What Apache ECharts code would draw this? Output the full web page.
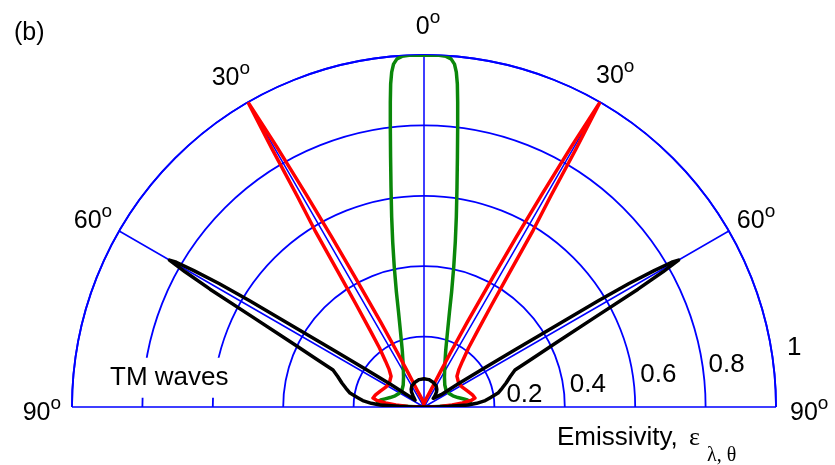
<!DOCTYPE html>
<html>
<head>
<meta charset="utf-8">
<title>Emissivity, TM waves</title>
<script src="https://cdn.jsdelivr.net/npm/echarts@6/dist/echarts.min.js"></script>
<style>
  html, body { margin: 0; padding: 0; background: #ffffff; }
  #chart { width: 835px; height: 465px; }
</style>
</head>
<body>
<div id="chart"></div>
<script>
// Polar angle ticks (degrees from the surface normal) and their labels
const angleTicks = [-90, -60, -30, 0, 30, 60, 90];
const angleTickLabels = ['90', '60', '30', '0', '30', '60', '90'];

// Emissivity rings and their labels
const ringTicks = [0.2, 0.4, 0.6, 0.8, 1];
const ringTickLabels = ['0.2', '0.4', '0.6', '0.8', '1'];

// Directional emissivity, one half of each symmetric pattern (theta >= 0)
const greenTheta = [0, 2.44, 3.59, 4.44, 5.08, 5.51, 5.89, 6.30, 6.86, 7.61, 8.53, 9.65, 10.74, 11.98, 13.5, 15.03, 17.4, 20.93, 26.35, 34.35, 43.39, 52.3, 61.6, 68.9, 74.4, 78.13, 80.86, 82.89, 84.59, 86.02, 86.93, 87.71, 88.09, 90];
const greenEps   = [1.0, 1.0, 0.998, 0.992, 0.978, 0.956, 0.923, 0.872, 0.801, 0.717, 0.632, 0.548, 0.477, 0.407, 0.336, 0.279, 0.223, 0.173, 0.133, 0.103, 0.086, 0.079, 0.081, 0.088, 0.100, 0.113, 0.125, 0.133, 0.136, 0.131, 0.117, 0.085, 0.043, 0];

const redTheta = [0, 5, 10, 15, 20, 22, 24, 25, 26, 27, 28, 28.5, 29, 29.5, 30, 30.5, 31, 31.7, 32.5, 33.5, 35, 37, 40, 43, 47, 55, 62, 70, 76, 80, 82, 84, 86, 88, 90];
const redEps   = [0.005, 0.008, 0.015, 0.025, 0.038, 0.05, 0.08, 0.11, 0.17, 0.27, 0.42, 0.55, 0.69, 0.85, 1.0, 0.85, 0.70, 0.59, 0.45, 0.35, 0.27, 0.21, 0.17, 0.145, 0.128, 0.12, 0.122, 0.132, 0.142, 0.147, 0.135, 0.11, 0.08, 0.045, 0];

const blackTheta = [0, 10, 20, 30, 36, 40, 44, 47, 50, 52.5, 54.2, 55.9, 57.15, 57.83, 58.37, 58.64, 58.95, 59.35, 59.7, 60, 60.5, 61.16, 62.28, 64.2, 66, 67.9, 70.5, 73.7, 76.5, 79.3, 82, 84, 86, 87.5, 88.5, 89.4, 90];
const blackEps   = [0.08, 0.079, 0.075, 0.069, 0.062, 0.055, 0.045, 0.036, 0.03, 0.032, 0.06, 0.115, 0.2, 0.3, 0.45, 0.58, 0.68, 0.76, 0.815, 0.835, 0.78, 0.694, 0.552, 0.411, 0.335, 0.279, 0.26, 0.243, 0.228, 0.214, 0.19, 0.175, 0.15, 0.125, 0.07, 0.03, 0];

// Angle axis runs from -90 (right) to +90 (left); each half-pattern is
// reflected about the normal to give the full curve, left to right.
function fullPattern(theta, eps) {
  const left = theta.map((t, i) => [eps[i], t]).reverse();
  const right = theta.slice(1).map((t, i) => [eps[i + 1], -t]);
  return left.concat(right);
}

const SANS = '"Liberation Sans", Arial, Helvetica, sans-serif';
const SERIF = '"Liberation Serif", "Times New Roman", serif';
const BLUE = '#0000ff';

const chart = echarts.init(document.getElementById('chart'), null, { renderer: 'canvas' });

function curve(name, color, theta, eps) {
  return {
    name: name,
    type: 'line',
    coordinateSystem: 'polar',
    data: fullPattern(theta, eps),
    symbol: 'none',
    showSymbol: false,
    smooth: false,
    clip: false,
    lineStyle: { color: color, width: 3.5, join: 'round', cap: 'round' },
    z: 3
  };
}

chart.setOption({
  animation: false,
  backgroundColor: '#ffffff',
  polar: { center: [424, 407], radius: 352 },
  angleAxis: {
    type: 'value',
    min: -90,
    max: 90,
    interval: 30,
    startAngle: 0,
    endAngle: 180,
    clockwise: false,
    axisLine: { show: true, lineStyle: { color: BLUE, width: 1.8 } },
    axisTick: { show: false },
    axisLabel: { show: false },
    splitLine: { show: true, lineStyle: { color: BLUE, width: 1.5 } }
  },
  radiusAxis: {
    type: 'value',
    min: 0,
    max: 1,
    interval: 0.2,
    axisLine: { show: false },
    axisTick: { show: false },
    axisLabel: { show: false },
    splitLine: { show: true, lineStyle: { color: BLUE, width: 1.8 } }
  },
  series: [
    curve('green', '#0a870a', greenTheta, greenEps),
    curve('red', '#ff0000', redTheta, redEps),
    curve('black', '#000000', blackTheta, blackEps)
  ]
});

// ---- text, placed from points of the polar coordinate system ----
const toPx = (r, a) => chart.convertToPixel({ seriesIndex: 0 }, [r, a]);

// middle of a sans line sits a little under 0.3 em above its baseline
function textEl(text, x, baseline, align, fontSize, family, extra) {
  const style = Object.assign({
    text: text,
    x: x,
    y: baseline - 0.28 * fontSize,
    fill: '#000000',
    fontSize: fontSize,
    fontFamily: family,
    font: fontSize + 'px ' + family,
    align: align,
    textAlign: align,
    verticalAlign: 'middle',
    textVerticalAlign: 'middle'
  }, extra || {});
  return { type: 'text', z: 20, style: style };
}

const degreeRich = {
  n: { fontSize: 25, fontFamily: SANS, fill: '#000', color: '#000' },
  o: { fontSize: 19, fontFamily: SANS, fill: '#000', color: '#000', padding: [0, 0, 18, 0] }
};

// [shift of the text edge from the rim point, baseline shift, alignment]
const anglePlacement = {
  '-90': [14, 13, 'left'],
  '-60': [8, -3, 'left'],
  '-30': [-4, -19, 'left'],
  '0': [4, -21, 'center'],
  '30': [2, -17, 'right'],
  '60': [-7, -3, 'right'],
  '90': [-11, 13, 'right']
};
// [gap right of the ring, baseline shift]
const ringPlacement = [[12, -5], [5, -15], [5, -25], [3, -35], [11, -52]];

const elements = [];
angleTicks.forEach((a, i) => {
  const p = toPx(1, a);
  const [dx, db, align] = anglePlacement[String(a)];
  elements.push(textEl('{n|' + angleTickLabels[i] + '}{o|o}', p[0] + dx, p[1] + db, align, 25, SANS, { rich: degreeRich }));
});
ringTicks.forEach((r, i) => {
  const p = toPx(r, -90);
  const [gap, db] = ringPlacement[i];
  elements.push(textEl(ringTickLabels[i], p[0] + gap, p[1] + db, 'left', 26, SANS));
});

// panel tag
elements.push(textEl('(b)', 14, 40, 'left', 25, SANS));

// polarisation note on a white box
elements.push(textEl('TM waves', 105, 385, 'left', 26, SANS, {
  backgroundColor: '#ffffff',
  padding: [7, 7, 7, 5]
}));

// radial quantity
elements.push(textEl('Emissivity,', 557, 445, 'left', 26, SANS));
elements.push(textEl('\u03b5', 689, 445, 'left', 26, SERIF));
elements.push(textEl('\u03bb, \u03b8', 707, 461, 'left', 20, SERIF));

chart.setOption({ graphic: { elements: elements } });
</script>
</body>
</html>
